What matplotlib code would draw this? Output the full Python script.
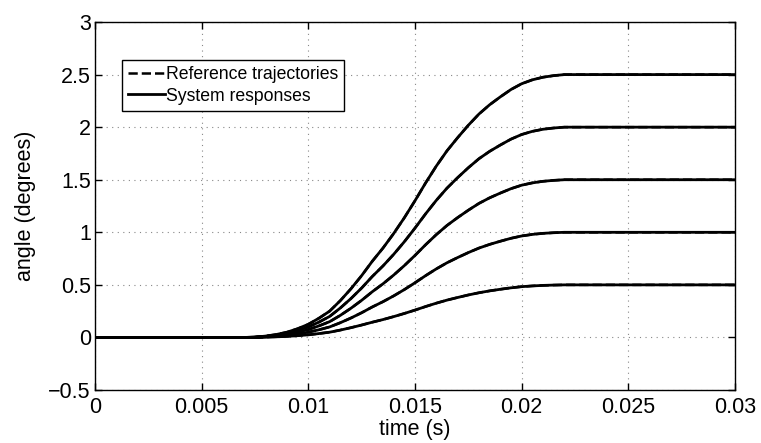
"""Step responses vs reference trajectories (angle vs time)."""
import matplotlib
matplotlib.use("Agg")
import matplotlib.pyplot as plt

# time samples (s)
time_s = [0.0, 0.007, 0.0075, 0.008, 0.0085, 0.009, 0.0095, 0.010, 0.0105,
          0.011, 0.0115, 0.012, 0.0125, 0.013, 0.0135, 0.014, 0.0145, 0.015,
          0.0155, 0.016, 0.0165, 0.017, 0.0175, 0.018, 0.0185, 0.019, 0.0195,
          0.020, 0.0205, 0.021, 0.0215, 0.022, 0.023, 0.030]

# angle (degrees) for each commanded step
resp_05 = [0, 0, 0.001, 0.003, 0.006, 0.01, 0.017, 0.025, 0.037, 0.05,
           0.07, 0.093, 0.118, 0.145, 0.17, 0.198, 0.228, 0.26, 0.294, 0.326,
           0.355, 0.38, 0.404, 0.425, 0.443, 0.458, 0.472, 0.483, 0.49,
           0.495, 0.498, 0.5, 0.5, 0.5]
resp_10 = [0, 0, 0.001, 0.005, 0.011, 0.02, 0.033, 0.05, 0.073, 0.10,
           0.14, 0.185, 0.235, 0.29, 0.34, 0.395, 0.455, 0.52, 0.588, 0.652,
           0.71, 0.76, 0.807, 0.85, 0.885, 0.915, 0.943, 0.965, 0.98,
           0.99, 0.996, 1.0, 1.0, 1.0]
resp_15 = [0, 0, 0.002, 0.008, 0.017, 0.03, 0.05, 0.075, 0.11, 0.15,
           0.21, 0.278, 0.353, 0.435, 0.51, 0.593, 0.683, 0.78, 0.882, 0.978,
           1.065, 1.14, 1.21, 1.275, 1.328, 1.373, 1.415, 1.448, 1.47,
           1.485, 1.494, 1.5, 1.5, 1.5]
resp_20 = [0, 0, 0.002, 0.01, 0.022, 0.04, 0.066, 0.10, 0.146, 0.20,
           0.28, 0.37, 0.47, 0.58, 0.68, 0.79, 0.91, 1.04, 1.176, 1.304,
           1.42, 1.52, 1.614, 1.70, 1.77, 1.83, 1.886, 1.93, 1.96,
           1.98, 1.992, 2.0, 2.0, 2.0]
resp_25 = [0, 0, 0.003, 0.013, 0.028, 0.05, 0.083, 0.125, 0.183, 0.25,
           0.35, 0.463, 0.588, 0.725, 0.85, 0.988, 1.138, 1.30, 1.47, 1.63,
           1.775, 1.90, 2.018, 2.125, 2.213, 2.288, 2.358, 2.413, 2.45,
           2.475, 2.49, 2.5, 2.5, 2.5]
responses = [resp_05, resp_10, resp_15, resp_20, resp_25]

x_ticks = [0, 0.005, 0.01, 0.015, 0.02, 0.025, 0.03]
x_ticklabels = ["0", "0.005", "0.01", "0.015", "0.02", "0.025", "0.03"]
y_ticks = [-0.5, 0, 0.5, 1, 1.5, 2, 2.5, 3]
y_ticklabels = ["\u22120.5", "0", "0.5", "1", "1.5", "2", "2.5", "3"]

plt.rcParams["font.family"] = ["Liberation Sans", "DejaVu Sans"]

fig = plt.figure(figsize=(7.61, 4.43), dpi=100)
ax = fig.add_axes([0.1248, 0.1196, 0.841, 0.8307])

# reference trajectories (dashed) lie under the measured responses
for i, r in enumerate(responses):
    ax.plot(time_s, r, color="black", ls="--", lw=1.8,
            label="Reference trajectories" if i == 0 else None)
for i, r in enumerate(responses):
    ax.plot(time_s, r, color="black", ls="-", lw=2.0,
            label="System responses" if i == 0 else None)

ax.set_xlim(0, 0.03)
ax.set_ylim(-0.5, 3)
ax.set_xticks(x_ticks)
ax.set_xticklabels(x_ticklabels)
ax.set_yticks(y_ticks)
ax.set_yticklabels(y_ticklabels)
ax.tick_params(direction="in", top=True, right=True, labelsize=15.5,
               length=5, width=1)
ax.tick_params(axis="x", pad=5)
ax.tick_params(axis="y", pad=3)
ax.grid(True, ls=(0, (1, 4)), color="#888888", lw=0.8)
for sp in ax.spines.values():
    sp.set_linewidth(1.0)

ax.set_xlabel("time (s)", fontsize=15.5, labelpad=1)
ax.set_ylabel("angle (degrees)", fontsize=15.5, labelpad=9)

leg = ax.legend(loc="upper left", bbox_to_anchor=(0.042, 0.897),
                borderaxespad=0, fancybox=False, edgecolor="black",
                framealpha=1, fontsize=12.7, handlelength=2.1,
                handletextpad=0.05, borderpad=0.35, labelspacing=0.25)
leg.get_frame().set_linewidth(1.0)

fig.savefig("out.png", dpi=100)
plt.close(fig)
